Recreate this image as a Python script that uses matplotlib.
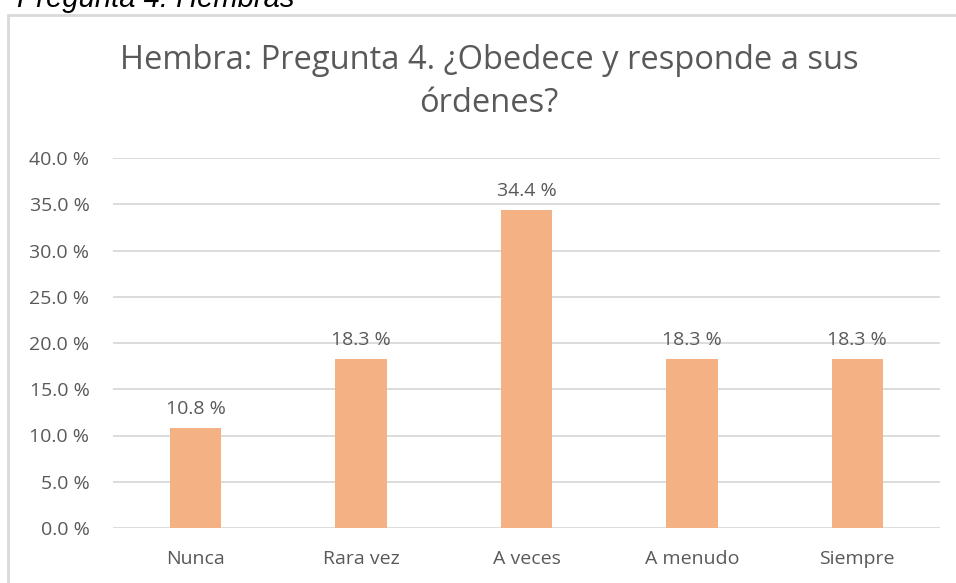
import matplotlib
matplotlib.use("Agg")
from matplotlib import pyplot as plt
from matplotlib.patches import Rectangle

categorias = ['Nunca', 'Rara vez', 'A veces', 'A menudo', 'Siempre']
porcentajes = [10.8, 18.3, 34.4, 18.3, 18.3]
ticks_y = [0, 5, 10, 15, 20, 25, 30, 35, 40]

gris = '#595959'
color_barra = '#F4B183'

plt.rcParams['font.family'] = ['Open Sans', 'DejaVu Sans']

fig = plt.figure(figsize=(9.56, 5.83), dpi=100)
W, H = 956, 583

# marco del gráfico (solo se ven borde izquierdo y superior)
fig.patches.append(Rectangle((8 / W, -0.1), 1.2, (H - 15) / H + 0.1,
                             transform=fig.transFigure, fill=False,
                             edgecolor='#D9D9D9', linewidth=2))

# leyenda de figura cortada arriba
fig.text(17 / W, 1 - 7 / H, 'Pregunta 4. Hembras', family='Liberation Sans',
         style='italic', fontsize=21, color='black', va='baseline', ha='left')

ax = fig.add_axes([113 / W, 1 - 528 / H, 827 / W, 370 / H])
x = range(len(categorias))
bars = ax.bar(x, porcentajes, width=0.31, color=color_barra, zorder=3)
for b, v in zip(bars, porcentajes):
    ax.text(b.get_x() + b.get_width() / 2, v + 1.1, f'{v:.1f} %',
            ha='center', va='bottom', fontsize=14, color=gris)

ax.set_xlim(-0.5, len(categorias) - 0.5)
ax.set_ylim(0, 40)
ax.set_yticks(ticks_y)
ax.set_yticklabels([f'{t:.1f} %' for t in ticks_y], fontsize=14, color=gris)
ax.set_xticks(list(x))
ax.set_xticklabels(categorias, fontsize=14, color=gris)
ax.tick_params(axis='both', length=0)
ax.tick_params(axis='y', pad=17)
ax.tick_params(axis='x', pad=16)
ax.grid(axis='y', color='#D9D9D9', linewidth=1.3, zorder=0)
for s in ax.spines.values():
    s.set_visible(False)

fig.text(489 / W, 1 - 82 / H, 'Hembra: Pregunta 4. ¿Obedece y responde a sus\nórdenes?',
         ha='center', va='center', fontsize=23.5, color=gris, linespacing=1.4)

plt.savefig('out.png', dpi=100)
